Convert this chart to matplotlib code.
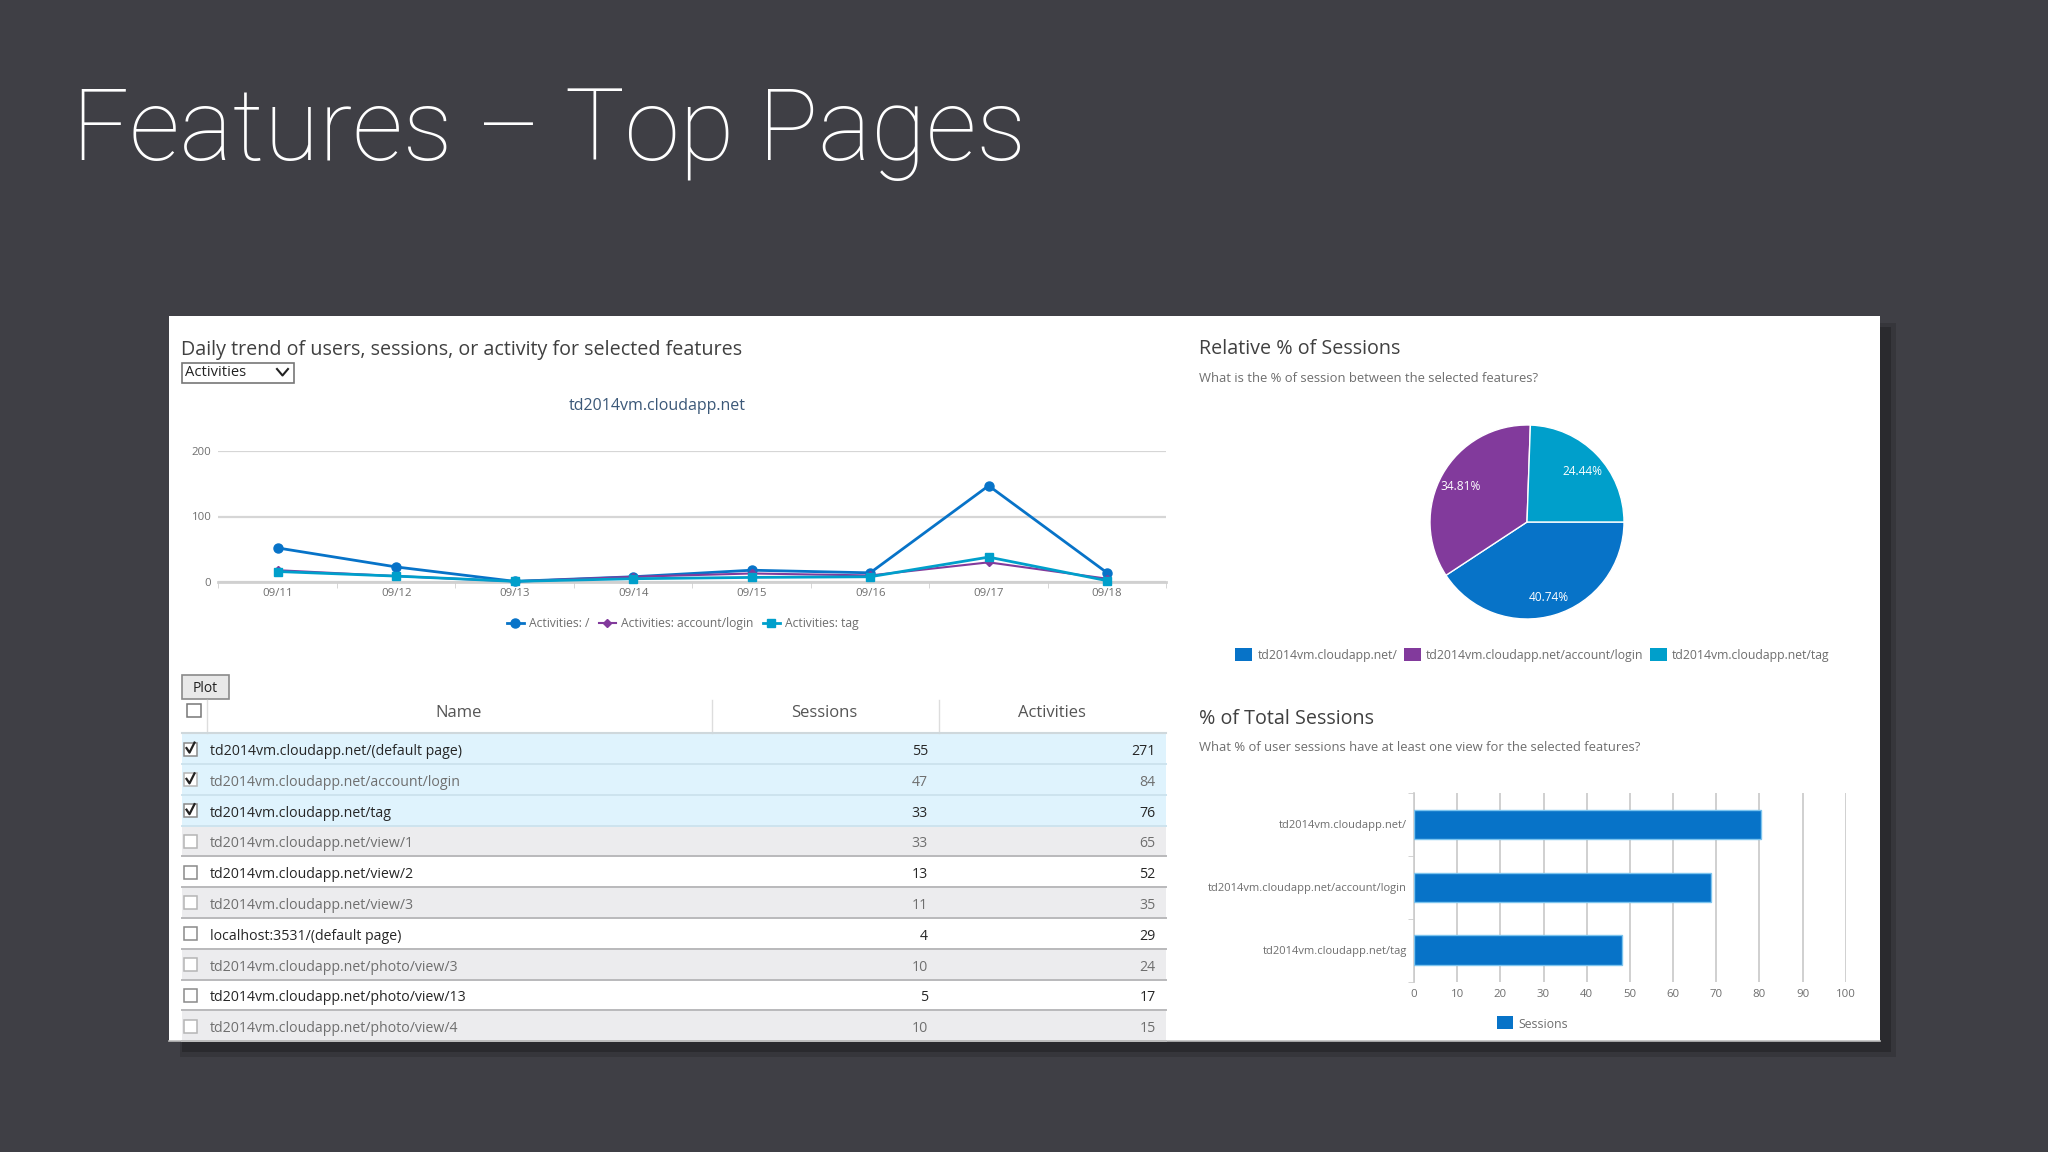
import matplotlib
matplotlib.use('Agg')
import matplotlib.pyplot as plt
from matplotlib.patches import Rectangle

W, H = 2048, 1152
UI_FONT = 'Open Sans'
plt.rcParams['font.family'] = [UI_FONT, 'DejaVu Sans']

# Line chart data
days = ['09/11', '09/12', '09/13', '09/14', '09/15', '09/16', '09/17', '09/18']
activities_root = [52, 23, 1, 8, 18, 14, 147, 14]
activities_login = [18, 9, 1, 8, 13, 10, 30, 5]
activities_tag = [16, 9, 1, 5, 7, 8, 38, 2]
line_ticks = [0, 100, 200]

# Table data
page_names = ['td2014vm.cloudapp.net/(default page)', 'td2014vm.cloudapp.net/account/login',
              'td2014vm.cloudapp.net/tag', 'td2014vm.cloudapp.net/view/1',
              'td2014vm.cloudapp.net/view/2', 'td2014vm.cloudapp.net/view/3',
              'localhost:3531/(default page)', 'td2014vm.cloudapp.net/photo/view/3',
              'td2014vm.cloudapp.net/photo/view/13', 'td2014vm.cloudapp.net/photo/view/4']
page_sessions = [55, 47, 33, 33, 13, 11, 4, 10, 5, 10]
page_activities = [271, 84, 76, 65, 52, 35, 29, 24, 17, 15]
selected_rows = 3

# Pie and bar data
feature_labels = ['td2014vm.cloudapp.net/', 'td2014vm.cloudapp.net/account/login', 'td2014vm.cloudapp.net/tag']
relative_sessions = [55, 47, 33]
total_session_pct = [80.4, 68.9, 48.2]
bar_ticks = [0, 10, 20, 30, 40, 50, 60, 70, 80, 90, 100]

BLUE = '#0773c8'
PURPLE = '#823a9c'
TEAL = '#009fcb'
feature_colors = [BLUE, PURPLE, TEAL]
GREY_TEXT = '#6e6e6e'
DARK_TEXT = '#333333'
SLIDE = '#3f3f45'


def px_axes(left, top, right, bottom):
    return fig.add_axes([left / W, 1 - bottom / H, (right - left) / W, (bottom - top) / H])


def box(x0, y0, x1, y1, color, edge='none', lw=0, z=1):
    bg.add_patch(Rectangle((x0, y0), x1 - x0, y1 - y0, facecolor=color, edgecolor=edge, linewidth=lw, zorder=z))


def label(x, y, s, size=8.6, color=DARK_TEXT, ha='left', **kw):
    bg.text(x, y, s, fontsize=size, color=color, ha=ha, va='center', zorder=6, **kw)


fig = plt.figure(figsize=(W / 100, H / 100), dpi=100, facecolor=SLIDE)

# full-figure pixel layer for the slide and page chrome
bg = fig.add_axes([0, 0, 1, 1])
bg.set_xlim(0, W)
bg.set_ylim(H, 0)
bg.axis('off')

bg.text(72, 160, 'Features – Top Pages', fontsize=72, color='white', ha='left', va='baseline',
        family=['Roboto', 'DejaVu Sans'], weight='light')

# soft shadow, then the page
box(180, 323, 1896, 1057, '#36363b', z=1)
box(182, 327, 1891, 1052, '#2a2a2e', z=1)
box(168.5, 316, 1880, 1041, 'white', z=2)

# left panel header
label(181, 350, 'Daily trend of users, sessions, or activity for selected features', size=14.2, color='#404040')
box(181.6, 363, 293.6, 383, 'white', edge='#777777', lw=1.2, z=3)
label(185, 373, 'Activities', size=10.6, color='#222222')
bg.plot([277, 282.5, 288], [369, 375.5, 369], color='#222222', lw=1.5, zorder=5)
label(657.6, 406, 'td2014vm.cloudapp.net', size=11.5, color='#3b5878', ha='center')

# line chart
ax = px_axes(218.4, 451, 1166.4, 582)
ax.patch.set_alpha(0)
xs = range(len(days))
ax.plot(xs, activities_root, color=BLUE, lw=2, marker='o', ms=6.5, label='Activities: /', zorder=3)
ax.plot(xs, activities_login, color=PURPLE, lw=1.5, marker='D', ms=4, label='Activities: account/login', zorder=4)
ax.plot(xs, activities_tag, color=TEAL, lw=2, marker='s', ms=6, label='Activities: tag', zorder=5)
ax.set_xlim(-0.5, 7.5)
ax.set_ylim(0, 200)
ax.set_xticks(list(xs))
ax.set_xticklabels(days, fontsize=8.2, color=GREY_TEXT)
ax.set_xticks([i - 0.5 for i in range(9)], minor=True)
ax.tick_params(axis='x', which='major', length=0, pad=4)
ax.tick_params(axis='x', which='minor', length=4, color='#d0d0d0')
ax.set_yticks(line_ticks)
ax.set_yticklabels(line_ticks, fontsize=8.2, color=GREY_TEXT)
ax.tick_params(axis='y', length=0, pad=5)
ax.grid(axis='y', color='#d6d6d6', lw=1.6)
ax.set_axisbelow(True)
for s in ['top', 'right', 'left']:
    ax.spines[s].set_visible(False)
ax.spines['bottom'].set_color('#d0d0d0')
ax.spines['bottom'].set_linewidth(2)
for spine in ax.spines.values():
    spine.set_zorder(1)
for line in ax.lines:
    line.set_clip_on(False)
ax.legend(loc='upper center', bbox_to_anchor=(0.49, -0.222), ncol=3, frameon=False, fontsize=8.7,
          labelcolor=GREY_TEXT, handlelength=1.4, handletextpad=0.45, columnspacing=0.75, borderpad=0)

# table
box(181.6, 675, 229, 699, '#e8e8e8', edge='#8a8a8a', lw=1.2, z=3)
label(205, 688, 'Plot', size=10, color='#222222', ha='center')
TABLE_L, TABLE_R = 181.6, 1166
HEAD_Y = 733.3
ROW_H = 30.78
box(187, 704, 201, 717, 'white', edge='#777777', lw=1.1, z=3)
for vx in [207, 712, 939]:
    bg.plot([vx, vx], [700, HEAD_Y], color='#dddddd', lw=1, zorder=3)
label(458.6, 713, 'Name', size=12, color='#555555', ha='center')
label(824, 713, 'Sessions', size=12, color='#555555', ha='center')
label(1052, 713, 'Activities', size=12, color='#555555', ha='center')
bg.plot([TABLE_L, TABLE_R], [HEAD_Y, HEAD_Y], color='#cfd8dc', lw=1.5, zorder=4)

for i, name in enumerate(page_names):
    top = HEAD_Y + i * ROW_H
    bottom = top + ROW_H
    if i < selected_rows:
        fill, line_col = '#dff3fd', '#cde3ee'
    elif i % 2 == 1:
        fill, line_col = '#ececee', '#b9b9bb'
    else:
        fill, line_col = 'white', '#b9b9bb'
    box(TABLE_L, top, TABLE_R, bottom, fill, z=2)
    bg.plot([TABLE_L, TABLE_R], [bottom, bottom], color=line_col, lw=1.4, zorder=3)
    col = '#6f6f6f' if i % 2 == 1 else '#262626'
    cy = top + 18.3
    box(183.5, cy - 9, 197, cy + 4, 'white', edge='#8a8a8a' if i % 2 == 0 else '#b5b5b5', lw=1.1, z=4)
    if i < selected_rows:
        bg.plot([186.5, 189.5, 194.5], [cy - 3.5, cy + 1, cy - 9], color='#222222', lw=1.6, zorder=5)
    label(210, cy, name, size=10.2, color=col)
    label(928, cy, str(page_sessions[i]), size=10.2, color=col, ha='right')
    label(1155.5, cy, str(page_activities[i]), size=10.2, color=col, ha='right')

bg.plot([168.5, 1880], [1041, 1041], color='#bdbdbd', lw=1.2, zorder=5)

# pie chart
label(1198.6, 349.5, 'Relative % of Sessions', size=14.2, color='#404040')
label(1198.6, 378.5, 'What is the % of session between the selected features?', size=9.4, color=GREY_TEXT)
pie_ax = px_axes(1527 - 97, 522 - 97, 1527 + 97, 522 + 97)
wedges, names, pct_texts = pie_ax.pie(relative_sessions, colors=feature_colors, startangle=0, counterclock=False,
                                      radius=1.0, autopct='%.2f%%', pctdistance=0.79,
                                      textprops={'color': 'white', 'fontsize': 8.6},
                                      wedgeprops={'edgecolor': 'white', 'linewidth': 1})
for t in pct_texts:
    px, py = t.get_position()
    t.set_position((px, py - 0.025))
pie_ax.set_xlim(-1, 1)
pie_ax.set_ylim(-1, 1)

for sq_x, txt_x, name, c in zip([1235, 1404, 1650], [1258, 1426, 1672], feature_labels, feature_colors):
    box(sq_x, 648, sq_x + 17, 661, c, z=3)
    label(txt_x, 655.5, name, size=8.8, color=GREY_TEXT)

# bar chart
label(1198.6, 718.5, '% of Total Sessions', size=14.2, color='#404040')
label(1198.6, 747.5, 'What % of user sessions have at least one view for the selected features?', size=9.4, color=GREY_TEXT)
bar_ax = px_axes(1414, 793, 1845.7, 981.7)
bar_ax.patch.set_alpha(0)
ypos = range(len(feature_labels))
bar_ax.barh(ypos, total_session_pct, height=0.47, color=BLUE, edgecolor='#7cc4ee', linewidth=1, zorder=3)
bar_ax.set_xlim(0, 100)
bar_ax.set_ylim(2.5, -0.5)
bar_ax.set_xticks(bar_ticks)
bar_ax.set_xticklabels(bar_ticks, fontsize=8.2, color=GREY_TEXT)
bar_ax.tick_params(axis='x', length=0, pad=5)
bar_ax.set_yticks(list(ypos))
bar_ax.set_yticklabels(feature_labels, fontsize=8.0, color=GREY_TEXT)
bar_ax.tick_params(axis='y', which='major', length=0, pad=5)
bar_ax.set_yticks([i - 0.5 for i in range(4)], minor=True)
bar_ax.tick_params(axis='y', which='minor', length=4, color='#cccccc')
bar_ax.grid(axis='x', color='#c8c8c8', lw=1.2)
bar_ax.set_axisbelow(True)
for s in ['top', 'right', 'bottom']:
    bar_ax.spines[s].set_visible(False)
bar_ax.spines['left'].set_color('#cccccc')
bar_ax.spines['left'].set_linewidth(1.2)

box(1496.6, 1016, 1513, 1029, BLUE, z=3)
label(1518, 1024, 'Sessions', size=8.8, color=GREY_TEXT)

fig.savefig('out.png', dpi=100, facecolor=fig.get_facecolor())
